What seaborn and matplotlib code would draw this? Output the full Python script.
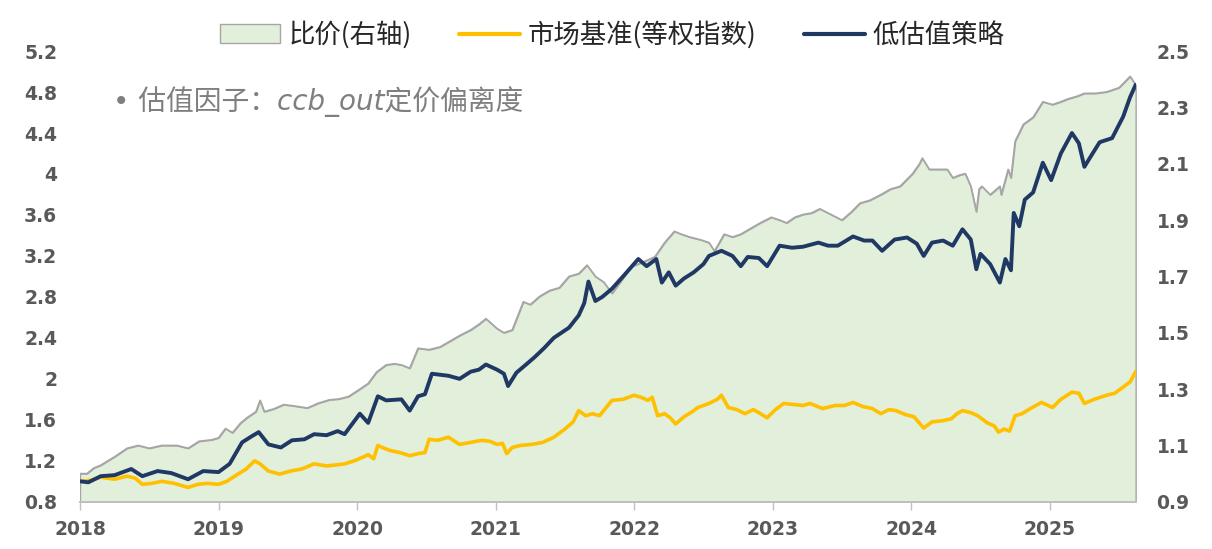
import numpy as np
import pandas as pd
import seaborn as sns
import matplotlib
matplotlib.use('Agg')
import matplotlib.pyplot as plt
from matplotlib.patches import Patch
from matplotlib.lines import Line2D

# ---- data (decimal years) ----
bench_t = [2018.00, 2018.08, 2018.15, 2018.25, 2018.34, 2018.40, 2018.45, 2018.52, 2018.59, 2018.68,
           2018.78, 2018.85, 2018.92, 2019.00, 2019.06, 2019.14, 2019.20, 2019.26, 2019.30, 2019.36,
           2019.44, 2019.52, 2019.60, 2019.69, 2019.78, 2019.85, 2019.91, 2019.98, 2020.05, 2020.08,
           2020.12, 2020.15, 2020.20, 2020.24, 2020.31, 2020.38, 2020.44, 2020.49, 2020.52, 2020.58,
           2020.66, 2020.74, 2020.82, 2020.90, 2020.96, 2021.01, 2021.05, 2021.08, 2021.12, 2021.18,
           2021.26, 2021.34, 2021.42, 2021.50, 2021.56, 2021.60, 2021.65, 2021.70, 2021.75, 2021.84,
           2021.92, 2022.00, 2022.05, 2022.10, 2022.13, 2022.17, 2022.22, 2022.26, 2022.30, 2022.36,
           2022.42, 2022.46, 2022.54, 2022.60, 2022.63, 2022.68, 2022.74, 2022.80, 2022.86, 2022.90,
           2022.96, 2023.02, 2023.08, 2023.15, 2023.22, 2023.27, 2023.36, 2023.45, 2023.52, 2023.58,
           2023.65, 2023.72, 2023.78, 2023.84, 2023.89, 2023.96, 2024.02, 2024.09, 2024.15, 2024.22,
           2024.29, 2024.33, 2024.37, 2024.43, 2024.48, 2024.55, 2024.60, 2024.63, 2024.67, 2024.71,
           2024.75, 2024.80, 2024.86, 2024.94, 2025.02, 2025.08, 2025.16, 2025.21, 2025.25, 2025.32,
           2025.41, 2025.47, 2025.53, 2025.58, 2025.62]
bench_v = [1.00, 1.01, 1.04, 1.02, 1.05, 1.03, 0.97, 0.98, 1.00, 0.98,
           0.94, 0.97, 0.98, 0.97, 1.00, 1.07, 1.12, 1.20, 1.17, 1.10,
           1.07, 1.10, 1.12, 1.17, 1.15, 1.16, 1.17, 1.20, 1.24, 1.26,
           1.22, 1.35, 1.32, 1.30, 1.28, 1.25, 1.27, 1.28, 1.41, 1.40,
           1.43, 1.36, 1.38, 1.40, 1.39, 1.36, 1.37, 1.27, 1.33, 1.35,
           1.36, 1.38, 1.43, 1.51, 1.58, 1.69, 1.64, 1.66, 1.64, 1.79,
           1.80, 1.84, 1.82, 1.79, 1.82, 1.64, 1.66, 1.62, 1.56, 1.63,
           1.68, 1.72, 1.76, 1.80, 1.84, 1.72, 1.70, 1.66, 1.70, 1.67,
           1.62, 1.70, 1.76, 1.75, 1.74, 1.76, 1.71, 1.74, 1.74, 1.77,
           1.73, 1.71, 1.66, 1.70, 1.69, 1.65, 1.63, 1.52, 1.58, 1.59,
           1.61, 1.66, 1.69, 1.67, 1.64, 1.57, 1.54, 1.48, 1.51, 1.49,
           1.64, 1.66, 1.71, 1.77, 1.72, 1.80, 1.87, 1.86, 1.76, 1.80,
           1.84, 1.86, 1.92, 1.97, 2.07]

strat_t = [2018.00, 2018.06, 2018.15, 2018.25, 2018.37, 2018.45, 2018.56, 2018.66, 2018.78, 2018.89,
           2019.00, 2019.08, 2019.17, 2019.24, 2019.29, 2019.36, 2019.45, 2019.53, 2019.62, 2019.69,
           2019.78, 2019.86, 2019.91, 2020.02, 2020.08, 2020.15, 2020.21, 2020.32, 2020.38, 2020.44,
           2020.49, 2020.54, 2020.66, 2020.74, 2020.82, 2020.88, 2020.93, 2021.01, 2021.06, 2021.09,
           2021.15, 2021.22, 2021.28, 2021.35, 2021.42, 2021.53, 2021.60, 2021.64, 2021.67, 2021.72,
           2021.77, 2021.84, 2021.92, 2022.03, 2022.09, 2022.16, 2022.20, 2022.25, 2022.30, 2022.36,
           2022.43, 2022.50, 2022.54, 2022.63, 2022.71, 2022.77, 2022.82, 2022.90, 2022.96, 2023.05,
           2023.14, 2023.22, 2023.33, 2023.40, 2023.47, 2023.58, 2023.66, 2023.72, 2023.79, 2023.88,
           2023.97, 2024.04, 2024.09, 2024.15, 2024.23, 2024.30, 2024.37, 2024.43, 2024.47, 2024.50,
           2024.57, 2024.64, 2024.68, 2024.72, 2024.74, 2024.78, 2024.82, 2024.88, 2024.95, 2025.01,
           2025.08, 2025.16, 2025.21, 2025.25, 2025.30, 2025.36, 2025.45, 2025.53, 2025.58, 2025.62]
strat_v = [1.00, 0.99, 1.05, 1.06, 1.12, 1.05, 1.10, 1.08, 1.02, 1.10,
           1.09, 1.17, 1.38, 1.44, 1.48, 1.36, 1.33, 1.40, 1.41, 1.46,
           1.45, 1.49, 1.46, 1.66, 1.57, 1.83, 1.79, 1.80, 1.69, 1.83,
           1.85, 2.05, 2.03, 2.00, 2.07, 2.09, 2.14, 2.09, 2.05, 1.93,
           2.06, 2.14, 2.21, 2.30, 2.40, 2.50, 2.62, 2.74, 2.95, 2.76,
           2.80, 2.88, 3.00, 3.17, 3.10, 3.17, 2.94, 3.04, 2.91, 2.98,
           3.04, 3.12, 3.20, 3.25, 3.20, 3.10, 3.19, 3.18, 3.10, 3.30,
           3.28, 3.29, 3.33, 3.30, 3.30, 3.39, 3.35, 3.35, 3.25, 3.36,
           3.38, 3.32, 3.20, 3.33, 3.35, 3.30, 3.46, 3.36, 3.07, 3.22,
           3.12, 2.94, 3.17, 3.06, 3.62, 3.49, 3.75, 3.82, 4.11, 3.94,
           4.20, 4.40, 4.30, 4.07, 4.18, 4.31, 4.35, 4.56, 4.75, 4.87]

ratio_t = [2018.00, 2018.05, 2018.10, 2018.15, 2018.25, 2018.34, 2018.42, 2018.50, 2018.59, 2018.70,
           2018.78, 2018.86, 2018.95, 2019.00, 2019.05, 2019.10, 2019.16, 2019.21, 2019.27, 2019.30,
           2019.33, 2019.40, 2019.47, 2019.55, 2019.64, 2019.72, 2019.80, 2019.87, 2019.94, 2020.02,
           2020.08, 2020.14, 2020.21, 2020.27, 2020.32, 2020.38, 2020.44, 2020.52, 2020.60, 2020.67,
           2020.74, 2020.82, 2020.88, 2020.93, 2021.01, 2021.06, 2021.12, 2021.20, 2021.25, 2021.32,
           2021.39, 2021.46, 2021.53, 2021.60, 2021.66, 2021.72, 2021.78, 2021.84, 2021.90, 2021.98,
           2022.06, 2022.15, 2022.22, 2022.29, 2022.34, 2022.40, 2022.48, 2022.54, 2022.58, 2022.65,
           2022.71, 2022.77, 2022.84, 2022.91, 2022.99, 2023.05, 2023.10, 2023.16, 2023.22, 2023.28,
           2023.34, 2023.42, 2023.50, 2023.57, 2023.63, 2023.70, 2023.78, 2023.85, 2023.92, 2024.01,
           2024.06, 2024.08, 2024.13, 2024.20, 2024.26, 2024.30, 2024.35, 2024.39, 2024.43, 2024.47,
           2024.49, 2024.51, 2024.57, 2024.64, 2024.65, 2024.70, 2024.72, 2024.75, 2024.81, 2024.88,
           2024.95, 2025.02, 2025.08, 2025.13, 2025.20, 2025.25, 2025.33, 2025.41, 2025.50, 2025.58,
           2025.62]
ratio_v = [1.00, 1.00, 1.02, 1.03, 1.06, 1.09, 1.10, 1.09, 1.10, 1.10,
           1.09, 1.115, 1.12, 1.127, 1.16, 1.145, 1.18, 1.20, 1.22, 1.26,
           1.22, 1.23, 1.245, 1.24, 1.233, 1.25, 1.262, 1.265, 1.274, 1.30,
           1.32, 1.36, 1.386, 1.39, 1.386, 1.374, 1.445, 1.44, 1.45, 1.47,
           1.49, 1.51, 1.53, 1.55, 1.515, 1.50, 1.51, 1.61, 1.60, 1.63,
           1.65, 1.66, 1.70, 1.71, 1.74, 1.70, 1.68, 1.64, 1.68, 1.735,
           1.75, 1.77, 1.82, 1.86, 1.85, 1.84, 1.83, 1.82, 1.79, 1.85,
           1.84, 1.85, 1.87, 1.89, 1.91, 1.90, 1.89, 1.91, 1.92, 1.925,
           1.94, 1.92, 1.90, 1.93, 1.96, 1.97, 1.99, 2.01, 2.02, 2.065,
           2.10, 2.12, 2.08, 2.08, 2.08, 2.05, 2.06, 2.065, 2.02, 1.93,
           2.01, 2.02, 1.99, 2.02, 1.99, 2.08, 2.05, 2.18, 2.24, 2.265,
           2.32, 2.31, 2.32, 2.33, 2.34, 2.35, 2.35, 2.355, 2.37, 2.41,
           2.38]

years = [2018, 2019, 2020, 2021, 2022, 2023, 2024, 2025]
left_ticks = [0.8, 1.2, 1.6, 2.0, 2.4, 2.8, 3.2, 3.6, 4.0, 4.4, 4.8, 5.2]
right_ticks = [0.9, 1.1, 1.3, 1.5, 1.7, 1.9, 2.1, 2.3, 2.5]

labels = ['比价(右轴)', '市场基准(等权指数)', '低估值策略']
note = '• 估值因子：ccb_out定价偏离度'

# ---- style ----
sns.set_theme(style='white')
plt.rcParams['font.family'] = ['DejaVu Sans', 'Noto Sans CJK SC']
cjk = ['Noto Sans CJK SC', 'DejaVu Sans']
tick_col = '#595959'
fill_col = '#E2EFDA'
grey_col = '#A6A6A6'
navy = '#1F3864'
gold = '#FFC000'

bench = pd.DataFrame({'t': bench_t, 'v': bench_v})
strat = pd.DataFrame({'t': strat_t, 'v': strat_v})
ratio = pd.DataFrame({'t': ratio_t, 'v': ratio_v})

fig = plt.figure(figsize=(12.12, 5.49), dpi=100)
ax = fig.add_axes([0.066, 0.086, 0.871, 0.821])
ax2 = ax.twinx()

# ratio area on the right axis, behind the lines
ax2.fill_between(ratio['t'], 0.9, ratio['v'], facecolor=fill_col, edgecolor=grey_col, lw=1)
sns.lineplot(data=ratio, x='t', y='v', ax=ax2, color=grey_col, lw=1.2)

sns.lineplot(data=bench, x='t', y='v', ax=ax, color=gold, lw=2.6)
sns.lineplot(data=strat, x='t', y='v', ax=ax, color=navy, lw=2.8)
ax.set_zorder(ax2.get_zorder() + 1)
ax.patch.set_visible(False)

x0, x1 = min(ratio_t), max(ratio_t)
for a in (ax, ax2):
    a.set_xlim(x0, x1)
    a.set_xlabel('')
    a.set_ylabel('')
    for s in ('top', 'left', 'right'):
        a.spines[s].set_visible(False)
    a.spines['bottom'].set_color('#BFBFBF')

ax.set_ylim(0.8, 5.2)
ax2.set_ylim(0.9, 2.5)
ax.set_yticks(left_ticks)
ax.set_yticklabels(['%g' % v for v in left_ticks])
ax2.set_yticks(right_ticks)
ax2.set_yticklabels(['%g' % v for v in right_ticks])
ax.set_xticks(years)
ax.set_xticklabels([str(y) for y in years])

ax.tick_params(axis='x', length=6, width=1, color='#BFBFBF', direction='out', pad=7,
               labelsize=13.5, labelcolor=tick_col, bottom=True)
ax.tick_params(axis='y', length=0, pad=16.5, labelsize=13.5, labelcolor=tick_col)
ax2.tick_params(axis='y', length=0, pad=15, labelsize=13.5, labelcolor=tick_col)
ax2.tick_params(axis='x', bottom=False, labelbottom=False)
for lab in ax.get_xticklabels() + ax.get_yticklabels() + ax2.get_yticklabels():
    lab.set_fontweight('bold')

ax.text(0.031, 0.887, note, transform=ax.transAxes, family=['DejaVu Sans', 'Noto Sans CJK SC'],
        fontsize=20, color='#7F7F7F', style='italic', va='center', ha='left')

handles = [Patch(facecolor=fill_col, edgecolor=grey_col, lw=1),
           Line2D([0], [0], color=gold, lw=3),
           Line2D([0], [0], color=navy, lw=3)]
fig.legend(handles, labels, loc='upper center', bbox_to_anchor=(0.505, 1.005), ncol=3,
           frameon=False, prop={'family': cjk, 'size': 19}, handlelength=2.3,
           handleheight=0.7, columnspacing=1.8, handletextpad=0.3)

fig.savefig('out.png', dpi=100)
